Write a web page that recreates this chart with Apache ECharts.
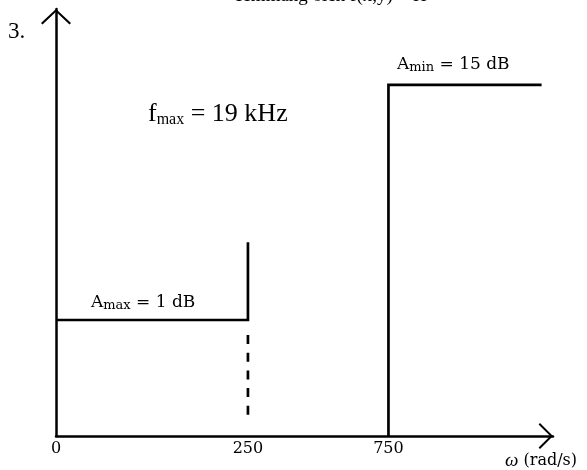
<!DOCTYPE html>
<html>
<head>
<meta charset="utf-8">
<script src="https://cdn.jsdelivr.net/npm/echarts@6/dist/echarts.min.js"></script>
<style>
html,body{margin:0;padding:0;background:#fff;}
#c{width:587px;height:470px;}
</style>
</head>
<body>
<div id="c"></div>
<script>
// ---- data ----
const omegaTicks = [0, 250, 750];          // rad/s tick labels
const passEdge = 250;                      // rad/s
const stopEdge = 750;                      // rad/s
const stopEnd = 1600;                      // rad/s, where the drawn stopband line ends
const Amax = 1;                            // dB
const Amin = 15;                           // dB
const passEdgeTop = 3.5;                   // dB, top of passband-edge marker
const fmaxKHz = 19;                        // kHz

// ---- schematic (non-linear) axis transforms used by the drawing ----
const X = w => Math.sqrt(w);
const Y = d => Math.pow(d, 0.409);

const passLine  = [[0, Amax], [passEdge, Amax], [passEdge, passEdgeTop]];
const passDash  = [[passEdge, Amax], [passEdge, 0]];
const stopLine  = [[stopEdge, 0], [stopEdge, Amin], [stopEnd, Amin]];
const tf = arr => arr.map(p => [X(p[0]), Y(p[1])]);

const serif = 'Liberation Serif';
const slab = 'DejaVu Serif';
const chart = echarts.init(document.getElementById('c'), null, {renderer: 'canvas'});
const black = '#000';
const LW = 2.7;

const subRich = (size, subSize, drop) => ({
  b: {fontFamily: slab, fontSize: size, lineHeight: size + 1, verticalAlign: 'top', fill: black},
  s: {fontFamily: slab, fontSize: subSize, lineHeight: subSize + 1, padding: [drop, 0, 0, 0], verticalAlign: 'bottom', fill: black}
});

chart.setOption({
  animation: false,
  backgroundColor: '#fff',
  grid: {left: 56, right: 34, top: 9, bottom: 34, outerBoundsMode: 'none'},
  xAxis: {
    type: 'value', min: 0, max: 40.94,
    splitLine: {show: false},
    axisTick: {show: false},
    axisLine: {
      onZero: false,
      lineStyle: {color: black, width: 2.5},
      symbol: ['none', 'path://M0,13 L13,0 L26,13 L24.6,14.4 L13,2.8 L1.4,14.4 Z'],
      symbolSize: [26, 14.4],
      symbolOffset: [0, -7.2]
    },
    axisLabel: {
      customValues: omegaTicks.map(X),
      formatter: v => String(Math.round(v * v)),
      color: black, fontFamily: slab, fontSize: 16, margin: 5,
      showMinLabel: true, showMaxLabel: true
    }
  },
  yAxis: {
    type: 'value', min: 0, max: 3.681,
    splitLine: {show: false},
    axisTick: {show: false},
    axisLabel: {show: false},
    axisLine: {
      onZero: false,
      lineStyle: {color: black, width: 2.5},
      symbol: ['none', 'path://M0,14 L15,0 L30,14 L28.5,15.4 L15,2.8 L1.5,15.4 Z'],
      symbolSize: [30, 15.4],
      symbolOffset: [0, -7.7]
    }
  },
  series: [
    {type: 'line', data: tf(passLine), symbol: 'none', lineStyle: {color: black, width: LW, cap: 'butt', join: 'miter'}},
    {type: 'line', data: tf(passDash), symbol: 'none',
     lineStyle: {color: black, width: LW, type: [9, 8.7, 9, 8.7, 9, 8.7, 9, 8.7, 9, 40], dashOffset: 104.8, cap: 'butt'}},
    {type: 'line', data: tf(stopLine), symbol: 'none', lineStyle: {color: black, width: LW, cap: 'butt', join: 'miter'}}
  ],
  graphic: [
    {type: 'text', left: 8, top: 20, style: {text: '3.', font: '23px "Liberation Serif"', fill: black}},
    {type: 'text', left: 234, top: -13, style: {text: 'cemmang oleh f(x,y) = H', font: '19px "Liberation Serif"', fill: black}},
    {type: 'text', left: 148, top: 100, style: {
      text: '{b|f}{s|max}{b| = ' + fmaxKHz + ' kHz}',
      rich: {
        b: {fontFamily: serif, fontSize: 26, lineHeight: 27, verticalAlign: 'top', fill: black},
        s: {fontFamily: serif, fontSize: 16, lineHeight: 17, padding: [12, 0, 0, 0], verticalAlign: 'bottom', fill: black}
      }}},
    {type: 'text', left: 91, top: 293, style: {
      text: '{b|A}{s|max}{b| = ' + Amax + ' dB}', rich: subRich(17, 13, 6)}},
    {type: 'text', left: 397, top: 55, style: {
      text: '{b|A}{s|min}{b| = ' + Amin + ' dB}', rich: subRich(17, 13, 6)}},
    {type: 'text', left: 505, top: 451, style: {
      text: '{w|ω}{b| (rad/s)}',
      rich: {
        w: {fontFamily: serif, fontSize: 19, fontStyle: 'italic', fill: black},
        b: {fontFamily: slab, fontSize: 16, fill: black}
      }}}
  ]
});
</script>
</body>
</html>
